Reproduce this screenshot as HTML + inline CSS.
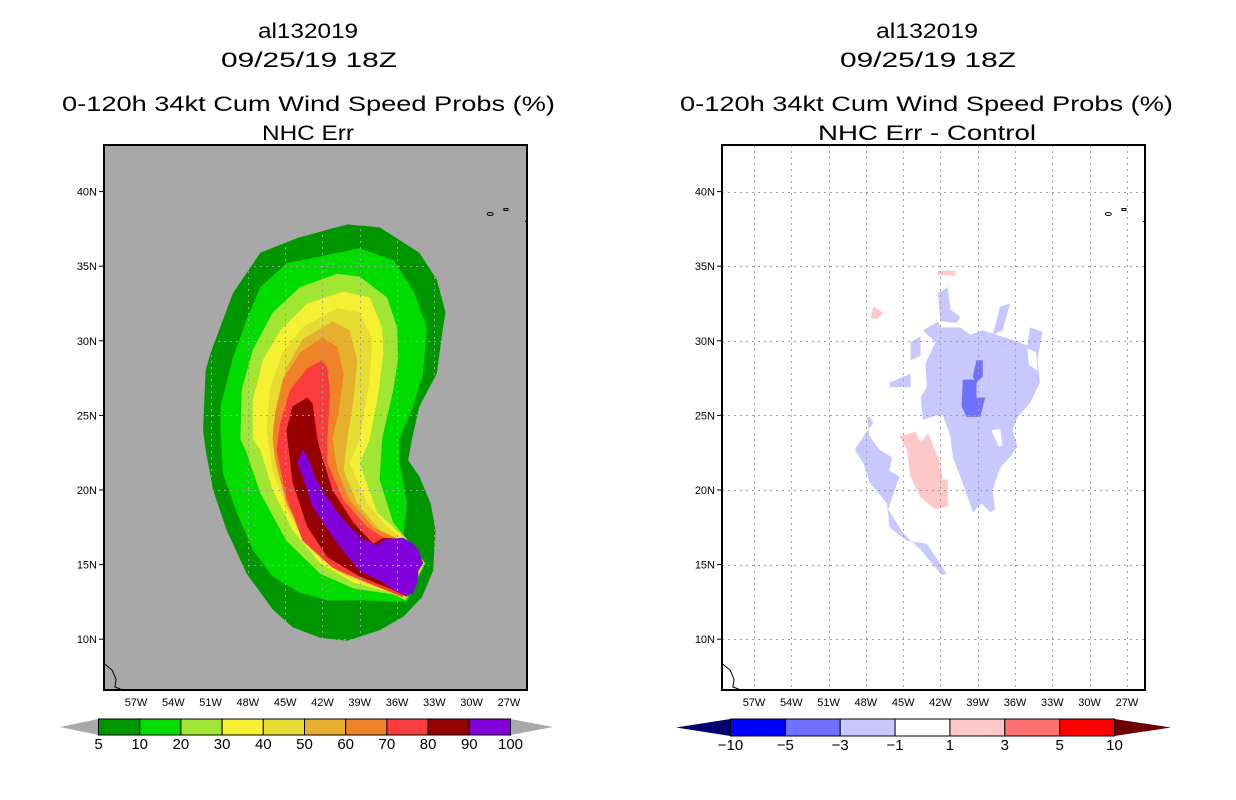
<!DOCTYPE html>
<html><head><meta charset="utf-8"><style>
html,body{margin:0;padding:0;background:#fff;}
svg{display:block;font-family:"Liberation Sans",sans-serif;}
</style></head><body>
<svg id="fig" width="1236" height="800" viewBox="0 0 1236 800" xmlns="http://www.w3.org/2000/svg">
<rect width="1236" height="800" fill="#fff"/>
<g font-size="21" fill="#000" text-anchor="start">
<text x="258" y="38" textLength="100" lengthAdjust="spacingAndGlyphs">al132019</text>
<text x="221" y="67" textLength="176" lengthAdjust="spacingAndGlyphs">09/25/19 18Z</text>
<text x="62" y="111" textLength="493" lengthAdjust="spacingAndGlyphs">0-120h 34kt Cum Wind Speed Probs (%)</text>
<text x="262" y="140" textLength="92" lengthAdjust="spacingAndGlyphs">NHC Err</text>
</g>
<g font-size="21" fill="#000">
<text x="876" y="38" textLength="102" lengthAdjust="spacingAndGlyphs">al132019</text>
<text x="840" y="67" textLength="176" lengthAdjust="spacingAndGlyphs">09/25/19 18Z</text>
<text x="680" y="111" textLength="493" lengthAdjust="spacingAndGlyphs">0-120h 34kt Cum Wind Speed Probs (%)</text>
<text x="818" y="140" textLength="218" lengthAdjust="spacingAndGlyphs">NHC Err - Control</text>
</g>
<g id="leftMap"></g>
<g id="rightMap"></g>
<g id="leftBar"></g>
<g id="rightBar"></g>
</svg>
<script>
const lonTicks=[-57,-54,-51,-48,-45,-42,-39,-36,-33,-30,-27];
const latTicks=[10,15,20,25,30,35,40];
const probLevels=[5,10,20,30,40,50,60,70,80,90,100];
const probColors=["#009600","#00dc00","#a0e632","#f5f032","#e6dc32","#e6af2d","#f08228","#fa3c3c","#960000","#8200dc"];
const prob5=[[-40.0,37.8],[-37.4,37.6],[-34.2,35.9],[-32.8,34.1],[-32.1,31.9],[-32.3,30.9],[-32.8,27.8],[-34.2,25.6],[-34.8,23.4],[-35.1,22.0],[-34.2,20.9],[-33.3,19.1],[-32.9,17.3],[-33.1,14.6],[-34.0,12.8],[-35.5,11.5],[-37.4,10.6],[-40.0,9.9],[-42.2,10.1],[-44.4,10.8],[-46.0,12.0],[-48.1,14.4],[-49.7,17.3],[-50.8,20.0],[-51.4,22.7],[-51.6,24.0],[-51.4,28.0],[-51.0,29.2],[-49.2,33.2],[-47.0,35.9],[-44.0,36.9]];
const prob10=[[-39.0,36.2],[-36.3,35.4],[-34.7,33.4],[-33.6,30.9],[-33.9,27.8],[-34.7,25.6],[-35.8,23.4],[-35.8,21.8],[-35.2,19.1],[-35.5,16.8],[-33.7,15.1],[-35.2,12.5],[-39.0,12.6],[-41.6,12.6],[-43.8,13.1],[-46.0,14.2],[-47.6,16.0],[-48.9,18.5],[-50.0,21.1],[-50.2,24.0],[-50.2,25.6],[-49.2,28.9],[-48.1,31.4],[-47.0,33.6],[-44.9,35.2]];
const prob20=[[-40.8,34.5],[-39.0,34.3],[-36.8,32.9],[-36.0,30.9],[-35.9,28.9],[-36.3,26.7],[-37.2,23.4],[-37.4,20.7],[-36.3,17.8],[-35.0,16.5],[-33.75,15.1],[-35.3,12.6],[-36.3,13.0],[-39.5,13.4],[-42.2,14.4],[-44.9,16.6],[-47.0,19.8],[-48.2,22.7],[-48.6,23.4],[-48.5,26.7],[-47.6,29.4],[-46.0,31.9],[-43.8,33.6]];
const prob30=[[-40.3,33.3],[-38.2,32.9],[-37.2,30.9],[-37.1,29.2],[-37.5,26.5],[-38.2,23.4],[-39.0,21.8],[-37.6,18.5],[-35.0,16.5],[-33.8,15.1],[-35.4,12.7],[-36.8,13.2],[-39.5,13.8],[-42.2,15.1],[-44.4,17.3],[-46.0,20.0],[-47.0,22.7],[-47.6,23.4],[-47.6,26.0],[-46.8,28.7],[-45.4,30.7],[-43.2,32.5]];
const prob40=[[-40.8,32.2],[-39.0,31.9],[-38.0,30.1],[-38.2,27.4],[-39.0,23.4],[-39.8,21.8],[-38.4,19.1],[-36.8,17.5],[-35.0,16.45],[-33.8,15.1],[-35.45,12.75],[-37.4,13.4],[-40.0,14.2],[-42.8,15.8],[-44.6,18.2],[-46.0,21.3],[-46.5,24.0],[-46.2,26.9],[-45.2,29.2],[-43.6,30.9]];
const prob50=[[-41.2,31.3],[-39.8,30.7],[-39.2,28.7],[-39.5,26.0],[-40.0,23.4],[-40.3,21.3],[-39.2,19.1],[-37.4,17.3],[-35.05,16.4],[-33.85,15.1],[-35.5,12.8],[-37.9,13.6],[-40.6,14.5],[-43.0,16.2],[-44.6,18.9],[-45.7,22.0],[-46.0,24.0],[-45.7,25.6],[-44.9,28.2],[-43.6,30.1]];
const prob60=[[-42.0,30.2],[-40.8,29.6],[-40.3,27.8],[-40.7,25.2],[-41.2,23.4],[-40.8,21.3],[-39.8,19.3],[-37.9,17.5],[-35.1,16.4],[-33.9,15.1],[-35.55,12.8],[-38.2,13.8],[-40.8,14.6],[-43.2,16.4],[-44.9,19.1],[-45.8,22.0],[-46.0,23.4],[-45.8,25.2],[-45.2,27.4],[-43.8,29.2]];
const prob70=[[-42.0,28.7],[-41.6,28.2],[-41.4,26.5],[-41.6,23.4],[-41.6,21.8],[-40.3,19.3],[-38.4,17.5],[-37.1,16.8],[-35.15,16.35],[-33.95,15.1],[-35.6,12.85],[-38.4,13.8],[-41.2,14.8],[-43.6,16.6],[-44.9,19.5],[-45.7,22.7],[-45.4,24.5],[-44.6,26.7],[-43.2,28.2]];
const prob80=[[-43.2,26.2],[-42.8,25.8],[-42.4,23.4],[-42.2,22.7],[-41.2,20.0],[-39.5,17.8],[-37.9,16.4],[-37.1,16.8],[-35.3,16.7],[-34.1,15.1],[-35.2,12.85],[-36.3,13.3],[-39.0,14.2],[-41.6,15.5],[-43.2,17.5],[-44.4,20.5],[-44.9,24.0],[-44.4,25.6]];
const prob90=[[-43.6,22.7],[-44.0,21.9],[-42.8,18.9],[-40.8,16.4],[-39.0,14.6],[-37.1,13.8],[-36.0,13.2],[-35.2,12.9],[-34.7,13.1],[-34.3,14.0],[-34.3,14.6],[-33.9,15.1],[-34.3,16.0],[-34.7,16.4],[-35.5,16.8],[-37.0,16.7],[-37.6,16.3],[-39.0,16.8],[-40.8,18.5],[-42.4,20.5],[-43.2,22.2]];
const probContours=[prob5,prob10,prob20,prob30,prob40,prob50,prob60,prob70,prob80,prob90];

const diffLevels=[-10,-5,-3,-1,1,3,5,10];
const diffColors=["#0000ff","#7070ff","#c8c8ff","#ffffff","#ffc8c8","#ff7070","#ff0000"];
const diffBlobMain=[[-43.4,30.7],[-42.2,31.3],[-42.0,30.9],[-41.2,30.9],[-40.4,30.9],[-39.6,30.4],[-38.6,30.7],[-37.5,30.4],[-36.4,30.1],[-35.0,29.7],[-34.8,30.9],[-33.8,30.6],[-34.0,29.6],[-34.2,28.7],[-34.0,27.2],[-34.8,25.8],[-35.8,24.9],[-36.2,24.0],[-35.8,22.9],[-36.4,22.2],[-37.2,21.5],[-37.8,20.0],[-37.6,18.7],[-38.0,18.5],[-38.7,19.1],[-39.4,18.5],[-39.8,19.5],[-40.4,20.9],[-41.0,22.2],[-41.2,23.6],[-41.8,25.0],[-42.3,25.0],[-43.4,24.7],[-43.6,26.2],[-43.1,26.9],[-43.2,28.5],[-42.4,29.9]];
const diffBlobTop=[[-42.2,33.2],[-41.4,33.6],[-41.2,32.1],[-40.4,31.6],[-40.7,31.2],[-42.0,31.3]];
const diffBlobSpike=[[-37.2,32.3],[-36.4,32.5],[-37.0,30.7],[-37.8,30.4]];
const diffBlobWest=[[-47.7,24.9],[-47.4,24.5],[-48.2,23.6],[-48.9,22.7],[-48.2,21.8],[-47.7,20.5],[-46.3,19.1],[-46.1,17.5],[-44.7,16.6],[-43.1,16.4],[-42.2,15.3],[-41.5,14.4],[-41.9,14.3],[-43.6,16.0],[-45.0,17.1],[-46.2,18.7],[-45.3,20.9],[-46.1,21.3],[-45.9,22.2],[-46.9,22.7],[-47.7,23.6],[-47.9,24.9]];
const diffBlobSmall1=[[-44.4,29.9],[-43.6,30.3],[-43.6,29.0],[-44.4,28.7]];
const diffBlobSmall2=[[-46.1,27.2],[-44.4,27.8],[-44.4,26.9],[-46.1,26.9]];
const diffDark1=[[-40.2,27.4],[-39.1,27.4],[-39.1,26.2],[-38.4,26.2],[-38.8,24.9],[-39.9,24.9],[-40.3,25.6]];
const diffDark2=[[-39.4,27.6],[-39.1,28.7],[-38.6,28.7],[-38.6,27.6],[-39.1,27.2]];
const diffPinkMain=[[-45.3,23.6],[-44.0,23.9],[-43.6,23.2],[-43.0,23.8],[-42.0,21.8],[-41.8,20.7],[-41.4,20.7],[-41.4,18.9],[-42.4,18.7],[-43.6,19.5],[-44.4,20.9],[-44.7,22.7]];
const diffPinkTop=[[-47.4,32.3],[-46.6,31.9],[-47.0,31.5],[-47.6,31.5]];
const diffPinkLine=[[-42.2,34.7],[-40.8,34.7],[-40.8,34.4],[-42.2,34.4]];
const diffHoles=[[[-37.9,24.0],[-37.2,24.1],[-37.0,23.0],[-37.3,22.9]],[[-35.0,29.5],[-34.3,29.2],[-34.2,28.0],[-34.9,28.4]]];
const diffShapes=[[diffBlobMain,2],[diffBlobTop,2],[diffBlobSpike,2],[diffBlobWest,2],[diffBlobSmall1,2],[diffBlobSmall2,2],[diffDark1,1],[diffDark2,1],[diffPinkMain,4],[diffPinkTop,4],[diffPinkLine,4]];

const NS="http://www.w3.org/2000/svg";
const MAP_L=104,MAP_R=527,MAP_T=145,MAP_B=690;
function xMap(lon,off){return 136+(lon+57)*12.43+off;}
function yMap(lat){return 490-(lat-20)*14.92;}
function mk(tag,attrs,parent){const e=document.createElementNS(NS,tag);for(const k in attrs)e.setAttribute(k,attrs[k]);parent.appendChild(e);return e;}
function pts(poly,off){return poly.map(p=>xMap(p[0],off).toFixed(1)+","+yMap(p[1]).toFixed(1)).join(" ");}

function drawGrid(g,off,clip){
  const gg=mk("g",{stroke:"#a0a0a0","stroke-width":1,"stroke-dasharray":"2,4",fill:"none"},g);
  
  
  if(clip)gg.setAttribute("clip-path","url(#"+clip+")");
  lonTicks.forEach(l=>{const x=Math.round(xMap(l,off))+0.5;mk("line",{x1:x,x2:x,y1:MAP_T,y2:MAP_B},gg);});
  latTicks.forEach(l=>{const y=Math.round(yMap(l))+0.5;mk("line",{x1:MAP_L+off,x2:MAP_R+off,y1:y,y2:y},gg);});
}
function drawCoast(g,off){
  const c=mk("g",{stroke:"#000","stroke-width":1,fill:"none"},g);
  
  
  mk("ellipse",{cx:xMap(-28.5,off),cy:yMap(38.5),rx:3,ry:1.5},c);
  mk("rect",{x:xMap(-27.4,off),y:yMap(38.8)-1,width:4,height:2},c);
  mk("line",{x1:xMap(-25.7,off),y1:yMap(38.0),x2:MAP_R+off,y2:yMap(38.0)},c);
  mk("polyline",{points:pts([[-59.6,8.4],[-58.9,7.9],[-58.6,7.3],[-58.7,6.8],[-58.1,6.6]],off)},c);
}
function drawAxes(g,off){
  const a=mk("g",{},g);
  
  
  mk("rect",{x:MAP_L+off,y:MAP_T,width:MAP_R-MAP_L,height:MAP_B-MAP_T,fill:"none",stroke:"#000","stroke-width":2},a);
  lonTicks.forEach(l=>{const t=mk("text",{x:xMap(l,off),y:706,"font-size":11,"text-anchor":"middle"},a);t.textContent=Math.abs(l)+"W";
    
    });
  latTicks.forEach(l=>{const y=yMap(l);const t=mk("text",{x:97+off,y:y+4,"font-size":11,"text-anchor":"end"},a);t.textContent=l+"N";
    
    
    mk("line",{x1:99+off,x2:104+off,y1:y,y2:y,stroke:"#000"},a);});
}

// left panel
const L=document.getElementById("leftMap");
const defs=mk("defs",{},L);
const cp=mk("clipPath",{id:"outerClip"},defs);
mk("polygon",{points:pts(prob5,0)},cp);
const bg=mk("rect",{x:MAP_L,y:MAP_T,width:MAP_R-MAP_L,height:MAP_B-MAP_T,fill:"#a8a8a8"},L);


probContours.forEach((poly,i)=>{
  const p=mk("polygon",{points:pts(poly,0),fill:probColors[i]},L);
  
  
});
drawGrid(L,0,"outerClip");
drawCoast(L,0);
drawAxes(L,0);

// right panel
const OFF=618;
const R=document.getElementById("rightMap");
diffShapes.forEach(s=>{
  const p=mk("polygon",{points:pts(s[0],OFF),fill:diffColors[s[1]]},R);
  
  
});
diffHoles.forEach(h=>{
  const p=mk("polygon",{points:pts(h,OFF),fill:"#fff"},R);
  
  
});
drawGrid(R,OFF,null);
drawCoast(R,OFF);
drawAxes(R,OFF);

// colorbars
function colorbar(g,x0,x1,tipL,tipR,colors,labels,leftCol,rightCol,yTop,yBot){
  const n=colors.length, w=(x1-x0)/n, ym=(yTop+yBot)/2;
  const tl=mk("polygon",{points:`${tipL},${ym} ${x0},${yTop} ${x0},${yBot}`,fill:leftCol},g);
  
  
  const tr=mk("polygon",{points:`${tipR},${ym} ${x1},${yTop} ${x1},${yBot}`,fill:rightCol},g);
  
  
  colors.forEach((c,i)=>{
    const r=mk("rect",{x:x0+i*w,y:yTop,width:w,height:yBot-yTop,fill:c,stroke:"#000","stroke-width":1},g);
    
    
  });
  labels.forEach((l,i)=>{
    const t=mk("text",{x:x0+i*w,y:yBot+14,"font-size":15,"text-anchor":"middle"},g);
    t.textContent=String(l).replace("-","\u2212");
    
    
  });
}
colorbar(document.getElementById("leftBar"),98.5,510.5,60,553,probColors,probLevels,"#a8a8a8","#a8a8a8",719,735);
colorbar(document.getElementById("rightBar"),730.5,1114.5,676,1171,["#0000ff","#7070ff","#c8c8ff","#ffffff","#ffc8c8","#ff7070","#ff0000"],diffLevels,"#00006e","#6e0000",719,736);
</script>
</body></html>
